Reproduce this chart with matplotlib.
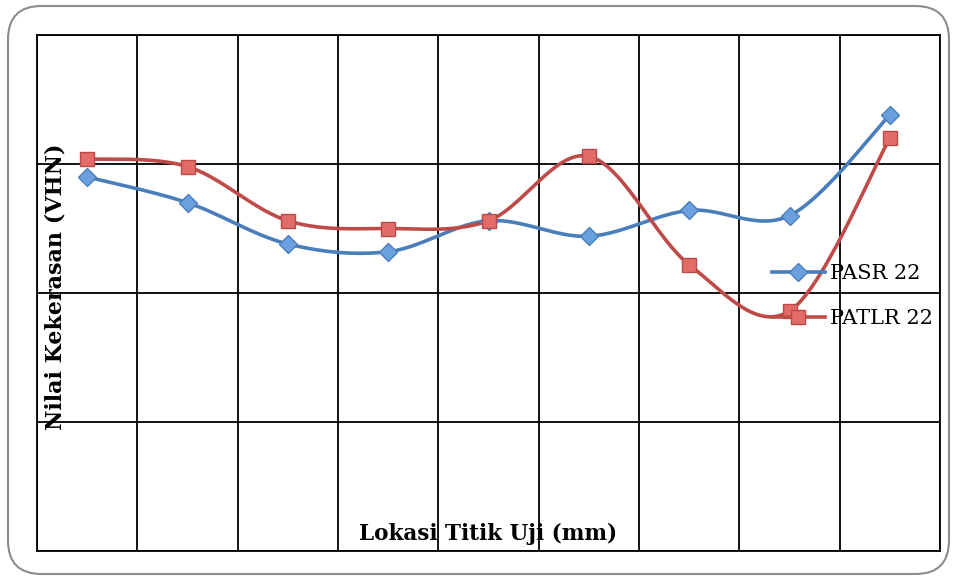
import numpy as np
import matplotlib.pyplot as plt
from matplotlib.patches import FancyBboxPatch
from matplotlib.lines import Line2D

# Data (hardness values; y axis has no tick labels)
titik = [1, 2, 3, 4, 5, 6, 7, 8, 9]
pasr_22 = [145, 135, 119, 116, 128, 122, 132, 130, 169]
patlr_22 = [152, 149, 128, 125, 128, 153, 111, 93, 160]
series_names = ["PASR 22", "PATLR 22"]


def smooth_curve(x, y, steps=30):
    """Excel-like smoothed line (Catmull-Rom through the points)."""
    x = np.asarray(x, float)
    y = np.asarray(y, float)
    px = np.concatenate([[x[0]], x, [x[-1]]])
    py = np.concatenate([[y[0]], y, [y[-1]]])
    t = np.linspace(0, 1, steps)
    xs, ys = [], []
    for i in range(1, len(px) - 2):
        p0x, p1x, p2x, p3x = px[i - 1:i + 3]
        p0y, p1y, p2y, p3y = py[i - 1:i + 3]
        # bezier control points
        c1x, c1y = p1x + (p2x - p0x) / 6, p1y + (p2y - p0y) / 6
        c2x, c2y = p2x - (p3x - p1x) / 6, p2y - (p3y - p1y) / 6
        bx = (1 - t) ** 3 * p1x + 3 * (1 - t) ** 2 * t * c1x + 3 * (1 - t) * t ** 2 * c2x + t ** 3 * p2x
        by = (1 - t) ** 3 * p1y + 3 * (1 - t) ** 2 * t * c1y + 3 * (1 - t) * t ** 2 * c2y + t ** 3 * p2y
        xs.append(bx)
        ys.append(by)
    return np.concatenate(xs), np.concatenate(ys)


plt.rcParams['font.family'] = ['DejaVu Serif']

fig = plt.figure(figsize=(9.57, 5.80), dpi=100)

# rounded outer frame
frame = FancyBboxPatch((8 / 957, 6 / 580), 941 / 957, 568 / 580,
                       boxstyle="round,pad=0,rounding_size=0.035",
                       transform=fig.transFigure, facecolor='none',
                       edgecolor='#8c8c8c', linewidth=1.5, zorder=0,
                       mutation_aspect=957 / 580)
fig.patches.append(frame)

ax = fig.add_axes([37 / 957, 29 / 580, 903 / 957, 516 / 580])
ax.set_facecolor('none')
ax.set_zorder(2)

blue = '#4a7ebb'
red = '#be4b48'

sx, sy = smooth_curve(titik, pasr_22)
ax.plot(sx, sy, color=blue, lw=2.6, zorder=3)
ax.plot(titik, pasr_22, linestyle='None', marker='D', markersize=9,
        markerfacecolor='#6a9fe0', markeredgecolor='#4a7ebb', markeredgewidth=1, zorder=4)

sx, sy = smooth_curve(titik, patlr_22)
ax.plot(sx, sy, color=red, lw=2.6, zorder=3)
ax.plot(titik, patlr_22, linestyle='None', marker='s', markersize=10,
        markerfacecolor='#e36b68', markeredgecolor='#b94a47', markeredgewidth=1, zorder=4)

ax.set_xlim(0.5, 9.5)
ax.set_ylim(0, 200)
ax.set_xticks(np.arange(0.5, 9.6, 1))
ax.set_yticks(np.arange(0, 201, 50))
ax.tick_params(left=False, bottom=False, labelleft=False, labelbottom=False)
ax.grid(True, color='black', linewidth=1.3)
for s in ax.spines.values():
    s.set_color('black')
    s.set_linewidth(1.3)

# legend
handles = [
    Line2D([0], [0], color=blue, lw=2.6, marker='D', markersize=9,
           markerfacecolor='#6a9fe0', markeredgecolor='#4a7ebb'),
    Line2D([0], [0], color=red, lw=2.6, marker='s', markersize=10,
           markerfacecolor='#e36b68', markeredgecolor='#b94a47'),
]
ax.legend(handles, series_names, loc='center left', bbox_to_anchor=(0.802, 0.494),
          frameon=False, fontsize=15, handlelength=2.55, handletextpad=0.25,
          labelspacing=1.25, borderpad=0)

ax.text(0.5, 0.012, "Lokasi Titik Uji (mm)", transform=ax.transAxes,
        ha='center', va='bottom', fontsize=15.5, fontweight='bold')
ax.text(0.02, 0.512, "Nilai Kekerasan (VHN)", transform=ax.transAxes,
        ha='center', va='center', rotation=90, fontsize=16, fontweight='bold')

fig.savefig('out.png', dpi=100)
